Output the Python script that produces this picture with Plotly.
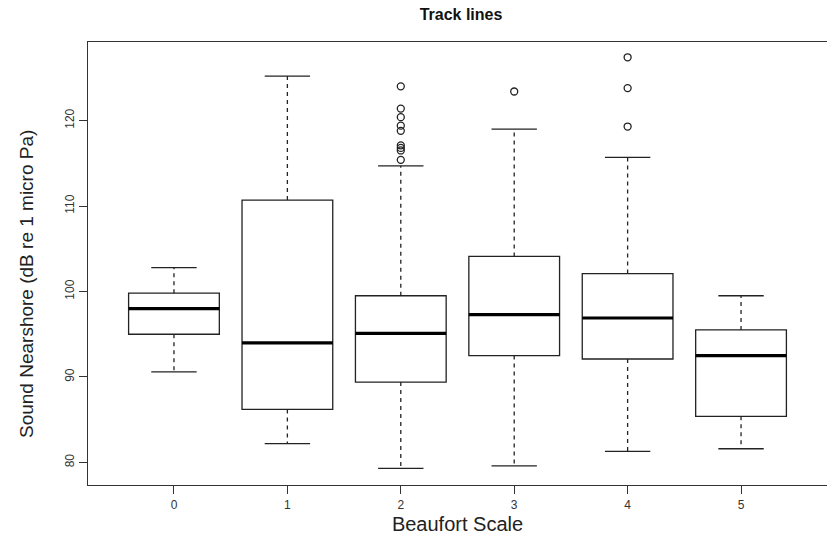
import plotly.graph_objects as go

# ---- data ----
categories = [0, 1, 2, 3, 4, 5]
q1 = [95.0, 86.2, 89.4, 92.5, 92.1, 85.4]
median = [98.0, 94.0, 95.1, 97.3, 96.9, 92.5]
q3 = [99.8, 110.7, 99.5, 104.1, 102.1, 95.5]
lower_whisker = [90.6, 82.2, 79.3, 79.6, 81.3, 81.6]
upper_whisker = [102.8, 125.2, 114.7, 119.0, 115.7, 99.5]
outlier_cat = [2, 2, 2, 2, 2, 2, 2, 2, 2, 3, 4, 4, 4]
outlier_val = [124.0, 121.4, 120.4, 119.4, 118.8, 117.1, 116.8, 116.5, 115.4,
               123.4, 127.4, 123.8, 119.3]
y_ticks = [80, 90, 100, 110, 120]

BOX_W = 0.8
CAP_W = 0.4
LINE = "#222222"
FONT = "Liberation Sans, Arial, sans-serif"

fig = go.Figure()

# boxes (no whiskers from the box trace itself)
fig.add_trace(go.Box(
    x=categories, q1=q1, median=median, q3=q3,
    lowerfence=q1, upperfence=q3,
    width=BOX_W, boxpoints=False,
    fillcolor="white", line=dict(color=LINE, width=1.3),
    whiskerwidth=0, showlegend=False, hoverinfo="skip",
))

# dashed whiskers
wx, wy = [], []
for c, a, b, lo, hi in zip(categories, q1, q3, lower_whisker, upper_whisker):
    wx += [c, c, None, c, c, None]
    wy += [b, hi, None, a, lo, None]
fig.add_trace(go.Scatter(x=wx, y=wy, mode="lines",
                         line=dict(color=LINE, width=1.3, dash="4px,4px"),
                         showlegend=False, hoverinfo="skip"))

# whisker caps
cx, cy = [], []
for c, lo, hi in zip(categories, lower_whisker, upper_whisker):
    cx += [c - CAP_W / 2, c + CAP_W / 2, None, c - CAP_W / 2, c + CAP_W / 2, None]
    cy += [hi, hi, None, lo, lo, None]
fig.add_trace(go.Scatter(x=cx, y=cy, mode="lines",
                         line=dict(color=LINE, width=1.3),
                         showlegend=False, hoverinfo="skip"))

# thick medians
mx, my = [], []
for c, m in zip(categories, median):
    mx += [c - BOX_W / 2, c + BOX_W / 2, None]
    my += [m, m, None]
fig.add_trace(go.Scatter(x=mx, y=my, mode="lines",
                         line=dict(color="black", width=3.2),
                         showlegend=False, hoverinfo="skip"))

# outliers
fig.add_trace(go.Scatter(x=outlier_cat, y=outlier_val, mode="markers",
                         marker=dict(symbol="circle-open", size=7,
                                     color=LINE, line=dict(width=1.3)),
                         showlegend=False, hoverinfo="skip"))

fig.update_layout(
    width=827, height=544,
    margin=dict(l=88, r=0, t=42, b=59),
    paper_bgcolor="white", plot_bgcolor="white",
    font=dict(family=FONT, color="#222222"),
    title=dict(text="<b>Track lines</b>", x=461 / 827, xref="container",
               xanchor="center", y=1 - 14 / 544, yref="container",
               yanchor="middle", font=dict(size=16, family=FONT, color="#111111")),
    boxmode="overlay",
    xaxis=dict(range=[-0.758, 5.758], tickvals=categories,
               ticktext=[str(c) for c in categories],
               showgrid=False, zeroline=False,
               showline=True, linecolor="#333333", linewidth=1.3, mirror=True,
               ticks="outside", ticklen=8, tickcolor="#333333", tickwidth=1.3,
               tickfont=dict(size=12, family=FONT, color="#333333"),
               title=dict(text="Beaufort Scale", standoff=6,
                          font=dict(size=20, family=FONT, color="#222222"))),
    yaxis=dict(range=[77.36, 129.19], tickvals=y_ticks,
               showgrid=False, zeroline=False,
               showline=True, linecolor="#333333", linewidth=1.3, mirror=False,
               ticks="outside", ticklen=8, tickcolor="#333333", tickwidth=1.3,
               tickangle=-90,
               tickfont=dict(size=12, family=FONT, color="#333333")),
    annotations=[dict(text="Sound Nearshore (dB re 1 micro Pa)",
                      textangle=-90, xref="paper", yref="paper",
                      x=(26 - 88) / 739, y=(485 - 284) / 443,
                      xanchor="center", yanchor="middle", showarrow=False,
                      font=dict(size=19, family=FONT, color="#222222"))],
)

fig.write_html("out.html")
